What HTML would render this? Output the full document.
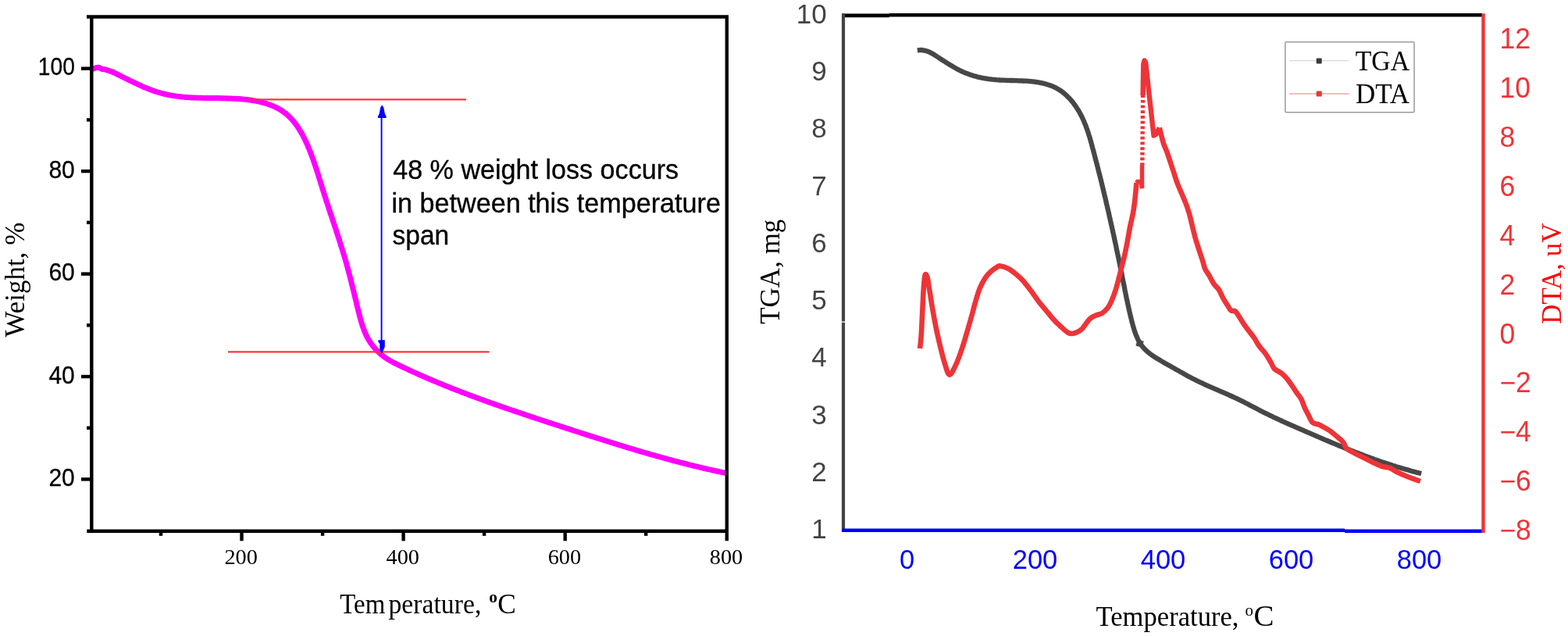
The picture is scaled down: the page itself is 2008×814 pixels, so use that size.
<!DOCTYPE html>
<html><head><meta charset="utf-8"><title>TGA / DTA</title>
<style>html,body{margin:0;padding:0;background:#fff;} svg{display:block;}</style></head>
<body><svg width="2008" height="814" viewBox="0 0 2008 814">
<rect width="2008" height="814" fill="#fff"/>
<path d="M119.8,87.9 C120.8,87.6 124.2,86.2 126.0,86.3 C127.8,86.4 129.1,87.9 130.5,88.3 C131.9,88.7 132.2,88.2 134.5,88.9 C136.8,89.6 142.8,91.7 144.5,92.3" fill="none" stroke="#ff00ff" stroke-width="7" stroke-linejoin="round" stroke-linecap="round"/>
<path d="M144.5,92.3 L146.7,93.3 L148.9,94.4 L151.1,95.5 L153.3,96.6 L155.5,97.7 L157.7,98.8 L160.0,100.0 L162.2,101.1 L164.5,102.2 L166.8,103.3 L169.1,104.4 L171.4,105.5 L173.7,106.6 L176.0,107.7 L178.4,108.8 L180.7,109.8 L183.0,110.9 L185.4,111.9 L187.7,112.8 L190.1,113.8 L192.5,114.7 L194.8,115.6 L197.2,116.4 L199.6,117.2 L202.0,118.0 L204.4,118.7 L206.8,119.3 L209.2,120.0 L211.6,120.5 L214.0,121.1 L216.4,121.6 L218.8,122.0 L221.2,122.4 L223.6,122.8 L226.0,123.1 L228.4,123.4 L230.9,123.7 L233.3,124.0 L235.7,124.2 L238.2,124.4 L240.6,124.6 L243.1,124.7 L245.5,124.9 L248.0,125.0 L250.4,125.1 L252.9,125.2 L255.4,125.2 L257.9,125.3 L260.3,125.4 L262.8,125.4 L265.3,125.4 L267.8,125.5 L270.4,125.5 L272.9,125.5 L275.4,125.6 L277.9,125.6 L280.5,125.6 L283.0,125.7 L285.6,125.7 L288.1,125.8 L290.7,125.9 L293.3,125.9 L295.9,126.0 L298.5,126.2 L301.1,126.3 L303.7,126.4 L306.2,126.6 L308.8,126.8 L311.4,127.1 L314.0,127.3 L316.6,127.6 L319.1,127.9 L321.7,128.3 L324.2,128.7 L326.7,129.1 L329.2,129.6 L331.7,130.1 L334.1,130.7 L336.5,131.3 L338.9,132.0 L341.3,132.7 L343.7,133.5 L346.0,134.3 L348.2,135.2 L350.5,136.1 L352.7,137.1 L354.8,138.2 L356.9,139.3 L359.0,140.5 L361.0,141.8 L363.0,143.2 L364.9,144.6 L366.8,146.1 L368.6,147.7 L370.4,149.3 L372.1,151.1 L373.8,152.8 L375.4,154.7 L377.0,156.6 L378.5,158.6 L380.0,160.6 L381.4,162.7 L382.8,164.8 L384.1,167.0 L385.4,169.2 L386.7,171.4 L387.9,173.7 L389.1,176.0 L390.3,178.3 L391.4,180.7 L392.5,183.0 L393.6,185.4 L394.6,187.8 L395.6,190.2 L396.6,192.6 L397.5,194.9 L398.4,197.3 L399.3,199.7 L400.2,202.1 L401.1,204.5 L401.9,206.8 L402.7,209.2 L403.5,211.6 L404.3,214.0 L405.1,216.3 L405.9,218.7 L406.6,221.0 L407.4,223.4 L408.1,225.8 L408.8,228.1 L409.6,230.5 L410.3,232.8 L411.0,235.2 L411.8,237.6 L412.5,239.9 L413.2,242.3 L414.0,244.6 L414.7,247.0 L415.5,249.4 L416.2,251.7 L417.0,254.1 L417.7,256.5 L418.5,258.9 L419.3,261.2 L420.1,263.6 L420.9,266.0 L421.6,268.4 L422.4,270.7 L423.2,273.1 L424.0,275.5 L424.8,277.9 L425.6,280.3 L426.4,282.7 L427.2,285.1 L428.0,287.5 L428.8,289.8 L429.6,292.2 L430.4,294.6 L431.1,297.0 L431.9,299.4 L432.7,301.8 L433.5,304.2 L434.3,306.6 L435.0,309.0 L435.8,311.4 L436.5,313.8 L437.3,316.2 L438.0,318.6 L438.8,321.0 L439.5,323.4 L440.2,325.8 L441.0,328.2 L441.7,330.6 L442.4,333.0 L443.1,335.4 L443.8,337.8 L444.4,340.2 L445.1,342.6 L445.7,345.0 L446.4,347.4 L447.0,349.9 L447.7,352.3 L448.3,354.7 L448.9,357.1 L449.5,359.5 L450.1,361.9 L450.7,364.3 L451.3,366.7 L451.9,369.2 L452.5,371.6 L453.1,374.0 L453.7,376.4 L454.3,378.9 L454.9,381.3 L455.5,383.7 L456.1,386.2 L456.6,388.6 L457.2,391.1 L457.8,393.5 L458.4,396.0 L459.1,398.5 L459.7,400.9 L460.3,403.4 L460.9,405.9 L461.6,408.4 L462.3,410.8 L463.0,413.3 L463.8,415.7 L464.5,418.1 L465.4,420.5 L466.3,422.8 L467.2,425.2 L468.2,427.4 L469.3,429.7 L470.4,431.9 L471.6,434.1 L472.9,436.2 L474.2,438.3 L475.7,440.3 L477.1,442.3 L478.7,444.2 L480.3,446.1 L481.9,447.9 L483.7,449.6 L485.4,451.3 L487.3,453.0 L489.2,454.6 L491.1,456.1 L493.1,457.5 L495.2,458.9 L497.3,460.2 L499.4,461.5 L501.6,462.7 L503.8,463.9 L506.0,465.1 L508.3,466.2 L510.6,467.3 L512.8,468.4 L515.1,469.5 L517.4,470.6 L519.7,471.6 L522.0,472.7 L524.2,473.8 L526.5,474.8 L528.8,475.9 L531.1,476.9 L533.4,477.9 L535.7,479.0 L538.0,480.0 L540.3,481.0 L542.6,482.0 L544.9,483.0 L547.2,484.0 L549.5,485.0 L551.9,486.0 L554.2,487.0 L556.5,487.9 L558.8,488.9 L561.1,489.9 L563.4,490.8 L565.8,491.8 L568.1,492.7 L570.4,493.7 L572.7,494.6 L575.1,495.5 L577.4,496.5 L579.7,497.4 L582.1,498.3 L584.4,499.2 L586.7,500.1 L589.1,501.0 L591.4,501.9 L593.8,502.8 L596.1,503.7 L598.4,504.6 L600.8,505.5 L603.1,506.4 L605.5,507.2 L607.8,508.1 L610.2,509.0 L612.5,509.8 L614.9,510.7 L617.2,511.5 L619.6,512.4 L621.9,513.3 L624.3,514.1 L626.7,514.9 L629.0,515.8 L631.4,516.6 L633.7,517.4 L636.1,518.3 L638.5,519.1 L640.8,519.9 L643.2,520.8 L645.6,521.6 L647.9,522.4 L650.3,523.2 L652.7,524.0 L655.0,524.8 L657.4,525.6 L659.8,526.4 L662.1,527.2 L664.5,528.0 L666.9,528.8 L669.3,529.6 L671.6,530.4 L674.0,531.2 L676.4,532.0 L678.8,532.8 L681.1,533.6 L683.5,534.4 L685.9,535.2 L688.3,536.0 L690.7,536.7 L693.0,537.5 L695.4,538.3 L697.8,539.1 L700.2,539.9 L702.6,540.6 L704.9,541.4 L707.3,542.2 L709.7,543.0 L712.1,543.7 L714.5,544.5 L716.9,545.3 L719.2,546.1 L721.6,546.8 L724.0,547.6 L726.4,548.4 L728.8,549.2 L731.2,549.9 L733.5,550.7 L735.9,551.5 L738.3,552.3 L740.7,553.0 L743.1,553.8 L745.5,554.6 L747.9,555.3 L750.2,556.1 L752.6,556.9 L755.0,557.6 L757.4,558.4 L759.8,559.1 L762.2,559.9 L764.6,560.7 L767.0,561.4 L769.4,562.2 L771.7,562.9 L774.1,563.7 L776.5,564.4 L778.9,565.2 L781.3,565.9 L783.7,566.7 L786.1,567.4 L788.5,568.2 L790.9,568.9 L793.3,569.6 L795.7,570.4 L798.1,571.1 L800.5,571.8 L802.9,572.6 L805.3,573.3 L807.7,574.0 L810.1,574.7 L812.5,575.4 L814.9,576.2 L817.3,576.9 L819.7,577.6 L822.1,578.3 L824.5,579.0 L826.9,579.7 L829.3,580.4 L831.7,581.1 L834.2,581.8 L836.6,582.4 L839.0,583.1 L841.4,583.8 L843.8,584.5 L846.2,585.2 L848.6,585.8 L851.0,586.5 L853.5,587.1 L855.9,587.8 L858.3,588.5 L860.7,589.1 L863.1,589.8 L865.6,590.4 L868.0,591.0 L870.4,591.7 L872.8,592.3 L875.3,592.9 L877.7,593.5 L880.1,594.1 L882.6,594.8 L885.0,595.4 L887.4,596.0 L889.9,596.6 L892.3,597.1 L894.7,597.7 L897.2,598.3 L899.6,598.9 L902.1,599.5 L904.5,600.0 L906.9,600.6 L909.4,601.1 L911.8,601.7 L914.3,602.2 L916.7,602.8 L919.2,603.3 L921.6,603.8 L924.1,604.4 L926.5,604.9 L929.0,605.4" fill="none" stroke="#ff00ff" stroke-width="7" stroke-linejoin="round" stroke-linecap="round"/>
<line x1="319.5" y1="127.4" x2="597" y2="127.4" stroke="#ff3535" stroke-width="2.3"/>
<line x1="292" y1="450.4" x2="626.5" y2="450.4" stroke="#ff3535" stroke-width="2.3"/>
<line x1="488.6" y1="140" x2="488.6" y2="447" stroke="#0000ff" stroke-width="1.9"/>
<path d="M489.2,134.6 L491.3,137.5 L492.9,145.5 L494.6,149 L494.6,151 L484,151 L484,149 L485.7,145.5 L487.2,137.5 Z" fill="#0000ff"/>
<path d="M489,452.5 L491,448 L492.8,444 L492.8,435.3 L484.4,435.3 L484.4,437.5 L486.3,440 L486.3,448 Z" fill="#0000ff"/>
<path d="M111,21.5 H930.8 V692.2 M117.3,21.5 V679.7 M111.3,679.7 H933.0" fill="none" stroke="#000" stroke-width="4.4"/>
<line x1="104" y1="87.7" x2="117.3" y2="87.7" stroke="#000" stroke-width="4.4"/>
<text transform="translate(95.8,96.3) scale(1,1.02)" font-family="'Liberation Sans', Arial, sans-serif" font-size="30" text-anchor="end" fill="#000" stroke="#000" stroke-width="0.3" textLength="47" lengthAdjust="spacingAndGlyphs">100</text>
<line x1="104" y1="219.1" x2="117.3" y2="219.1" stroke="#000" stroke-width="4.4"/>
<text transform="translate(95.8,227.7) scale(1,1.02)" font-family="'Liberation Sans', Arial, sans-serif" font-size="30" text-anchor="end" fill="#000" stroke="#000" stroke-width="0.3">80</text>
<line x1="104" y1="350.6" x2="117.3" y2="350.6" stroke="#000" stroke-width="4.4"/>
<text transform="translate(95.8,359.2) scale(1,1.02)" font-family="'Liberation Sans', Arial, sans-serif" font-size="30" text-anchor="end" fill="#000" stroke="#000" stroke-width="0.3">60</text>
<line x1="104" y1="482.0" x2="117.3" y2="482.0" stroke="#000" stroke-width="4.4"/>
<text transform="translate(95.8,490.6) scale(1,1.02)" font-family="'Liberation Sans', Arial, sans-serif" font-size="30" text-anchor="end" fill="#000" stroke="#000" stroke-width="0.3">40</text>
<line x1="104" y1="613.4" x2="117.3" y2="613.4" stroke="#000" stroke-width="4.4"/>
<text transform="translate(95.8,622.0) scale(1,1.02)" font-family="'Liberation Sans', Arial, sans-serif" font-size="30" text-anchor="end" fill="#000" stroke="#000" stroke-width="0.3">20</text>
<line x1="111" y1="153.4" x2="117.3" y2="153.4" stroke="#000" stroke-width="4.4"/>
<line x1="111" y1="284.8" x2="117.3" y2="284.8" stroke="#000" stroke-width="4.4"/>
<line x1="111" y1="416.3" x2="117.3" y2="416.3" stroke="#000" stroke-width="4.4"/>
<line x1="111" y1="547.7" x2="117.3" y2="547.7" stroke="#000" stroke-width="4.4"/>
<line x1="309.5" y1="679.7" x2="309.5" y2="692.3" stroke="#000" stroke-width="4.4"/>
<line x1="516.6" y1="679.7" x2="516.6" y2="692.3" stroke="#000" stroke-width="4.4"/>
<line x1="723.7" y1="679.7" x2="723.7" y2="692.3" stroke="#000" stroke-width="4.4"/>
<text x="308.7" y="722" font-family="'Liberation Serif', 'Times New Roman', serif" font-size="28.3" text-anchor="middle" fill="#000">200</text>
<text x="515.8" y="722" font-family="'Liberation Serif', 'Times New Roman', serif" font-size="28.3" text-anchor="middle" fill="#000">400</text>
<text x="722.9" y="722" font-family="'Liberation Serif', 'Times New Roman', serif" font-size="28.3" text-anchor="middle" fill="#000">600</text>
<text x="930.0" y="722" font-family="'Liberation Serif', 'Times New Roman', serif" font-size="28.3" text-anchor="middle" fill="#000">800</text>
<line x1="206.0" y1="679.7" x2="206.0" y2="685.8" stroke="#000" stroke-width="4.4"/>
<line x1="413.1" y1="679.7" x2="413.1" y2="685.8" stroke="#000" stroke-width="4.4"/>
<line x1="620.1" y1="679.7" x2="620.1" y2="685.8" stroke="#000" stroke-width="4.4"/>
<line x1="827.2" y1="679.7" x2="827.2" y2="685.8" stroke="#000" stroke-width="4.4"/>
<text y="784.7" font-family="'Liberation Serif', 'Times New Roman', serif" font-size="35.3" fill="#000"><tspan x="435.3" textLength="58" lengthAdjust="spacingAndGlyphs">Tem</tspan><tspan x="497.4" textLength="119" lengthAdjust="spacingAndGlyphs">perature,</tspan><tspan x="626.2" y="770.6" font-size="21.5" font-weight="bold">o</tspan><tspan x="637.3" y="784.7">C</tspan></text>
<text transform="translate(30.5,431.5) rotate(-90)" font-family="'Liberation Serif', 'Times New Roman', serif" font-size="35" fill="#000">Weight, %</text>
<text font-family="'Liberation Sans', Arial, sans-serif" font-size="35.5" fill="#000" stroke="#000" stroke-width="0.35" lengthAdjust="spacingAndGlyphs"><tspan x="503.2" y="229" textLength="365.9" lengthAdjust="spacingAndGlyphs">48 % weight loss occurs</tspan><tspan x="501.4" y="271.8" textLength="421.6" lengthAdjust="spacingAndGlyphs">in between this temperature</tspan><tspan x="502.6" y="312.6" textLength="72.6" lengthAdjust="spacingAndGlyphs">span</tspan></text>
<path d="M1174.8,64.4 L1177.4,64.1 L1180.0,64.0 L1182.4,64.3 L1184.8,64.8 L1187.1,65.5 L1189.4,66.3 L1191.6,67.4 L1193.7,68.5 L1195.9,69.8 L1198.0,71.1 L1200.1,72.5 L1202.3,73.9 L1204.4,75.3 L1206.5,76.7 L1208.7,78.0 L1210.8,79.4 L1213.0,80.8 L1215.2,82.2 L1217.4,83.5 L1219.6,84.8 L1221.8,86.1 L1224.0,87.4 L1226.2,88.6 L1228.4,89.7 L1230.7,90.8 L1232.9,91.8 L1235.2,92.8 L1237.5,93.8 L1239.8,94.6 L1242.1,95.5 L1244.4,96.2 L1246.7,97.0 L1249.1,97.6 L1251.4,98.3 L1253.8,98.8 L1256.2,99.4 L1258.6,99.9 L1261.0,100.3 L1263.5,100.7 L1265.9,101.1 L1268.4,101.4 L1270.9,101.7 L1273.4,101.9 L1275.9,102.2 L1278.5,102.3 L1281.0,102.5 L1283.6,102.6 L1286.1,102.7 L1288.7,102.8 L1291.3,102.9 L1293.9,103.0 L1296.5,103.0 L1299.1,103.1 L1301.7,103.2 L1304.3,103.3 L1306.9,103.4 L1309.4,103.5 L1312.0,103.6 L1314.6,103.7 L1317.1,103.9 L1319.6,104.1 L1322.2,104.4 L1324.7,104.7 L1327.1,105.0 L1329.6,105.4 L1332.0,105.8 L1334.5,106.3 L1336.8,106.9 L1339.2,107.5 L1341.5,108.2 L1343.8,108.9 L1346.1,109.8 L1348.3,110.7 L1350.5,111.7 L1352.7,112.7 L1354.8,113.9 L1356.9,115.2 L1358.9,116.5 L1360.9,118.0 L1362.8,119.6 L1364.7,121.2 L1366.5,122.9 L1368.3,124.7 L1370.0,126.5 L1371.7,128.4 L1373.4,130.4 L1374.9,132.4 L1376.5,134.5 L1377.9,136.6 L1379.3,138.7 L1380.7,140.8 L1382.0,143.0 L1383.2,145.2 L1384.4,147.4 L1385.5,149.7 L1386.6,151.9 L1387.6,154.2 L1388.6,156.5 L1389.5,158.8 L1390.5,161.1 L1391.3,163.5 L1392.2,165.8 L1393.0,168.2 L1393.8,170.6 L1394.5,172.9 L1395.3,175.3 L1396.0,177.7 L1396.7,180.1 L1397.4,182.6 L1398.0,185.0 L1398.7,187.4 L1399.3,189.8 L1400.0,192.2 L1400.6,194.7 L1401.3,197.1 L1401.9,199.5 L1402.5,202.0 L1403.2,204.4 L1403.8,206.8 L1404.4,209.2 L1405.1,211.7 L1405.7,214.1 L1406.3,216.5 L1406.9,219.0 L1407.5,221.4 L1408.2,223.8 L1408.8,226.3 L1409.4,228.7 L1410.0,231.1 L1410.6,233.6 L1411.2,236.0 L1411.8,238.5 L1412.4,240.9 L1412.9,243.3 L1413.5,245.8 L1414.1,248.2 L1414.7,250.7 L1415.3,253.1 L1415.9,255.5 L1416.4,258.0 L1417.0,260.4 L1417.6,262.9 L1418.1,265.3 L1418.7,267.7 L1419.3,270.2 L1419.8,272.6 L1420.4,275.1 L1420.9,277.5 L1421.5,280.0 L1422.0,282.4 L1422.6,284.9 L1423.1,287.3 L1423.7,289.8 L1424.2,292.2 L1424.8,294.6 L1425.3,297.1 L1425.8,299.5 L1426.4,302.0 L1426.9,304.4 L1427.4,306.9 L1427.9,309.3 L1428.5,311.8 L1429.0,314.2 L1429.5,316.7 L1430.0,319.1 L1430.5,321.6 L1431.0,324.0 L1431.6,326.5 L1432.1,328.9 L1432.6,331.4 L1433.1,333.8 L1433.6,336.3 L1434.1,338.7 L1434.6,341.2 L1435.1,343.6 L1435.6,346.1 L1436.1,348.5 L1436.6,351.0 L1437.0,353.4 L1437.5,355.9 L1438.0,358.3 L1438.5,360.8 L1439.0,363.2 L1439.5,365.7 L1440.0,368.1 L1440.4,370.6 L1440.9,373.0 L1441.4,375.5 L1441.9,377.9 L1442.4,380.4 L1442.9,382.8 L1443.5,385.3 L1444.0,387.7 L1444.5,390.2 L1445.0,392.6 L1445.6,395.1 L1446.1,397.6 L1446.7,400.0 L1447.3,402.5 L1447.9,405.0 L1448.5,407.4 L1449.1,409.9 L1449.7,412.4 L1450.4,414.8 L1451.0,417.3 L1451.8,419.7 L1452.5,422.2 L1453.3,424.6 L1454.1,426.9 L1455.0,429.3 L1456.0,431.6 L1457.0,433.8 L1458.1,436.0 L1459.3,438.1 L1460.6,440.2 L1462.0,442.2 L1463.5,444.1 L1465.1,445.9 L1466.8,447.6 L1468.6,449.3 L1470.4,450.9 L1472.4,452.5 L1474.4,454.0 L1476.4,455.4 L1478.5,456.8 L1480.7,458.2 L1482.9,459.5 L1485.1,460.8 L1487.3,462.1 L1489.6,463.4 L1491.8,464.7 L1494.0,465.9 L1496.3,467.2 L1498.5,468.4 L1500.7,469.7 L1502.9,470.9 L1505.0,472.2 L1507.2,473.4 L1509.4,474.6 L1511.5,475.9 L1513.7,477.1 L1515.8,478.3 L1518.0,479.5 L1520.1,480.7 L1522.3,481.9 L1524.5,483.0 L1526.7,484.2 L1528.9,485.3 L1531.1,486.4 L1533.3,487.5 L1535.6,488.6 L1537.8,489.7 L1540.1,490.7 L1542.4,491.8 L1544.6,492.8 L1546.9,493.9 L1549.2,494.9 L1551.5,495.9 L1553.8,496.9 L1556.2,497.9 L1558.5,498.9 L1560.8,499.9 L1563.1,500.9 L1565.4,501.9 L1567.8,502.9 L1570.1,503.9 L1572.4,504.9 L1574.7,506.0 L1577.0,507.0 L1579.3,508.0 L1581.6,509.1 L1583.9,510.1 L1586.1,511.2 L1588.4,512.3 L1590.6,513.4 L1592.9,514.5 L1595.1,515.7 L1597.3,516.8 L1599.5,518.0 L1601.7,519.2 L1603.9,520.3 L1606.2,521.5 L1608.4,522.6 L1610.6,523.8 L1612.8,524.9 L1615.0,526.1 L1617.2,527.2 L1619.5,528.3 L1621.7,529.4 L1624.0,530.5 L1626.2,531.6 L1628.5,532.7 L1630.7,533.8 L1633.0,534.8 L1635.3,535.9 L1637.5,536.9 L1639.8,538.0 L1642.1,539.0 L1644.4,540.1 L1646.7,541.1 L1648.9,542.1 L1651.2,543.2 L1653.5,544.2 L1655.8,545.2 L1658.1,546.2 L1660.4,547.2 L1662.7,548.2 L1665.0,549.2 L1667.3,550.2 L1669.6,551.2 L1671.9,552.2 L1674.2,553.2 L1676.5,554.2 L1678.9,555.2 L1681.2,556.2 L1683.5,557.2 L1685.8,558.2 L1688.1,559.1 L1690.4,560.1 L1692.7,561.1 L1695.0,562.1 L1697.3,563.1 L1699.6,564.0 L1701.9,565.0 L1704.3,566.0 L1706.6,567.0 L1708.9,567.9 L1711.2,568.9 L1713.5,569.8 L1715.8,570.8 L1718.2,571.7 L1720.5,572.7 L1722.8,573.6 L1725.1,574.5 L1727.5,575.5 L1729.8,576.4 L1732.1,577.3 L1734.4,578.2 L1736.8,579.1 L1739.1,580.0 L1741.4,580.9 L1743.8,581.8 L1746.1,582.7 L1748.5,583.6 L1750.8,584.5 L1753.2,585.3 L1755.5,586.2 L1757.9,587.0 L1760.2,587.9 L1762.6,588.7 L1765.0,589.5 L1767.3,590.4 L1769.7,591.2 L1772.1,592.0 L1774.4,592.8 L1776.8,593.6 L1779.2,594.3 L1781.6,595.1 L1784.0,595.9 L1786.3,596.6 L1788.7,597.4 L1791.1,598.1 L1793.5,598.8 L1795.9,599.5 L1798.3,600.2 L1800.8,600.9 L1803.2,601.6 L1805.6,602.3 L1808.0,603.0 L1810.4,603.6 L1812.9,604.2 L1815.3,604.9 L1817.8,605.5 L1820.2,606.1" fill="none" stroke="#474747" stroke-width="6.3" stroke-linejoin="round"/>
<rect x="-4.2" y="-4.2" width="8.4" height="8.4" fill="#474747" transform="translate(1459.6,439.6) rotate(15)"/>
<path d="M1178.1,446.0 C1178.4,443.0 1179.3,435.7 1179.8,428.0 C1180.3,420.3 1180.7,409.3 1181.2,400.0 C1181.7,390.7 1182.1,379.7 1182.6,372.0 C1183.1,364.3 1183.7,357.5 1184.2,354.0 C1184.7,350.5 1185.2,350.9 1185.8,351.2 C1186.4,351.5 1187.2,353.9 1187.8,356.0 C1188.4,358.1 1188.2,357.8 1189.2,364.0 C1190.2,370.2 1192.2,383.7 1193.8,393.0 C1195.4,402.3 1197.1,411.7 1198.8,420.0 C1200.5,428.3 1202.2,435.5 1204.0,443.0 C1205.8,450.5 1207.8,458.9 1209.8,465.0 C1211.8,471.1 1213.6,479.4 1216.0,479.6 C1218.4,479.8 1221.5,472.2 1224.3,466.3 C1227.1,460.4 1230.1,451.6 1232.6,444.2 C1235.1,436.8 1237.0,429.5 1239.2,422.1 C1241.4,414.7 1244.0,405.5 1245.5,400.0 C1247.0,394.5 1246.9,394.1 1248.4,389.0 C1249.9,383.9 1252.4,374.8 1254.7,369.1 C1257.0,363.5 1259.6,358.8 1262.1,355.1 C1264.6,351.4 1267.0,349.2 1269.5,347.0 C1272.0,344.8 1274.8,342.9 1276.8,341.8 C1278.8,340.7 1278.8,340.1 1281.3,340.5 C1283.8,340.9 1288.6,342.6 1291.6,344.0 C1294.5,345.4 1296.0,346.7 1299.0,349.2 C1302.0,351.7 1306.3,355.2 1309.8,359.0 C1313.3,362.8 1316.7,367.4 1320.0,371.8 C1323.3,376.2 1326.5,381.1 1329.8,385.4 C1333.1,389.7 1336.4,393.5 1339.7,397.5 C1343.0,401.5 1346.5,406.0 1349.8,409.6 C1353.1,413.2 1356.8,416.5 1359.7,419.2 C1362.6,421.9 1365.2,424.3 1367.4,425.6 C1369.6,426.9 1371.2,427.0 1373.0,427.0 C1374.8,427.0 1376.3,426.6 1378.4,425.6 C1380.5,424.6 1383.8,422.7 1385.8,420.8 C1387.8,418.9 1388.8,416.7 1390.5,414.5 C1392.2,412.3 1394.1,409.3 1396.3,407.5 C1398.5,405.7 1401.2,404.6 1403.7,403.5 C1406.2,402.4 1408.6,402.5 1411.1,401.0 C1413.5,399.5 1416.3,397.0 1418.4,394.3 C1420.5,391.6 1421.9,388.6 1423.6,384.7 C1425.3,380.8 1427.1,376.1 1428.7,371.0 C1430.3,365.9 1431.9,359.4 1433.3,354.2 C1434.7,348.9 1435.8,344.4 1437.0,339.5 C1438.2,334.6 1439.5,329.6 1440.6,324.7 C1441.7,319.8 1442.5,315.8 1443.6,310.0 C1444.7,304.2 1446.0,296.1 1447.2,290.0 C1448.4,283.9 1449.8,278.9 1450.8,273.7 C1451.8,268.5 1452.4,263.9 1453.0,259.0 C1453.6,254.1 1454.1,248.4 1454.5,244.2 C1454.9,240.0 1455.3,235.7 1455.5,234.0" fill="none" stroke="#ee3438" stroke-width="6.6" stroke-linejoin="round"/>
<path d="M1455.5,234.0 L1456.5,232.5 L1461.3,232.5 L1462.5,241.0 L1462.5,212.0" fill="none" stroke="#ee3438" stroke-width="5.5" stroke-linejoin="miter"/>
<path d="M1462.8,212.0 L1463.6,122.0" fill="none" stroke="#ee3438" stroke-width="5.4" stroke-dasharray="3.7 3"/>
<path d="M1463.6,122.0 L1464.3,82.0 L1465.6,77.5 L1467.2,80.0 L1471.5,120.0 L1477.5,173.5 L1480.5,172.0 L1484.8,163.5" fill="none" stroke="#ee3438" stroke-width="6.4" stroke-linejoin="round"/>
<path d="M1484.8,163.5 C1485.7,166.8 1488.3,178.1 1489.9,183.2 C1491.5,188.3 1492.8,190.1 1494.3,194.2 C1495.8,198.2 1497.3,203.1 1498.8,207.5 C1500.3,211.9 1501.7,216.4 1503.2,220.8 C1504.7,225.2 1505.9,229.7 1507.6,234.1 C1509.2,238.5 1511.2,242.9 1513.1,247.3 C1514.9,251.7 1517.0,256.2 1518.7,260.6 C1520.4,265.0 1521.8,269.5 1523.1,273.9 C1524.4,278.3 1525.1,282.0 1526.4,287.2 C1527.7,292.4 1529.1,298.9 1530.8,304.9 C1532.5,310.9 1535.0,318.3 1536.5,323.0 C1538.0,327.7 1538.9,329.8 1540.0,333.3 C1541.1,336.9 1541.8,341.0 1543.3,344.3 C1544.8,347.6 1547.0,350.1 1548.8,353.2 C1550.6,356.3 1552.3,360.2 1554.3,363.1 C1556.3,366.1 1559.0,367.8 1561.0,370.9 C1563.0,374.0 1564.7,378.7 1566.5,382.0 C1568.3,385.3 1570.3,388.2 1572.0,390.8 C1573.7,393.4 1574.8,396.1 1576.5,397.4 C1578.2,398.7 1580.2,397.0 1582.0,398.5 C1583.8,400.0 1585.7,403.5 1587.5,406.3 C1589.3,409.1 1591.1,412.2 1593.1,415.1 C1595.1,418.1 1597.5,421.1 1599.7,424.0 C1601.9,426.9 1604.2,429.6 1606.3,432.8 C1608.4,436.0 1610.1,439.6 1612.6,443.0 C1615.1,446.4 1618.6,449.8 1621.1,453.3 C1623.6,456.9 1625.9,461.2 1627.7,464.3 C1629.5,467.4 1629.9,469.9 1632.1,472.1 C1634.3,474.3 1638.4,475.6 1641.0,477.6 C1643.6,479.6 1645.4,481.6 1647.6,484.2 C1649.8,486.8 1652.0,490.0 1654.2,493.1 C1656.4,496.2 1658.9,500.2 1660.9,503.1 C1662.9,506.1 1664.8,507.7 1666.4,510.8 C1668.1,513.9 1669.3,518.6 1670.8,521.9 C1672.3,525.2 1673.6,527.6 1675.3,530.7 C1677.0,533.8 1678.8,538.7 1680.8,540.7 C1682.8,542.7 1685.4,542.1 1687.4,542.9 C1689.4,543.7 1690.5,544.2 1693.0,545.5 C1695.5,546.8 1698.7,548.4 1702.3,550.9 C1705.9,553.4 1711.5,558.1 1714.6,560.7 C1717.7,563.4 1719.1,564.5 1720.7,566.8 C1722.3,569.0 1722.4,572.2 1724.4,574.2 C1726.5,576.2 1729.5,577.2 1733.0,579.1 C1736.5,581.0 1741.2,583.2 1745.3,585.3 C1749.4,587.3 1753.4,589.5 1757.5,591.4 C1761.6,593.3 1766.1,595.7 1769.8,596.9 C1773.5,598.1 1776.5,597.7 1779.6,598.8 C1782.7,599.9 1784.7,602.0 1788.2,603.7 C1791.7,605.4 1795.4,607.2 1800.5,609.2 C1805.6,611.2 1815.8,614.9 1818.9,616.0" fill="none" stroke="#ee3438" stroke-width="6.6" stroke-linejoin="round" stroke-linecap="butt"/>
<path d="M1078,19.9 H1138.7 M1138.7,19.3 H1898" fill="none" stroke="#000" stroke-width="4.6"/>
<line x1="1080" y1="17.3" x2="1080" y2="681" stroke="#444" stroke-width="4.2"/>
<rect x="1077" y="411.4" width="6" height="1.3" fill="#fff"/>
<path d="M1078,678.7 H1722 M1722,679.7 H1898" fill="none" stroke="#0000ff" stroke-width="4.6"/>
<line x1="1899.5" y1="17.3" x2="1899.5" y2="682" stroke="#ee3438" stroke-width="4.4"/>
<text transform="translate(1058.7,688.9) scale(1,1.001)" font-family="'Liberation Sans', Arial, sans-serif" font-size="35" text-anchor="end" fill="#444">1</text>
<text transform="translate(1058.7,615.7) scale(1,1.001)" font-family="'Liberation Sans', Arial, sans-serif" font-size="35" text-anchor="end" fill="#444">2</text>
<text transform="translate(1058.7,542.5) scale(1,1.001)" font-family="'Liberation Sans', Arial, sans-serif" font-size="35" text-anchor="end" fill="#444">3</text>
<text transform="translate(1058.7,469.3) scale(1,1.001)" font-family="'Liberation Sans', Arial, sans-serif" font-size="35" text-anchor="end" fill="#444">4</text>
<text transform="translate(1058.7,396.1) scale(1,1.001)" font-family="'Liberation Sans', Arial, sans-serif" font-size="35" text-anchor="end" fill="#444">5</text>
<text transform="translate(1058.7,322.9) scale(1,1.001)" font-family="'Liberation Sans', Arial, sans-serif" font-size="35" text-anchor="end" fill="#444">6</text>
<text transform="translate(1058.7,249.6) scale(1,1.001)" font-family="'Liberation Sans', Arial, sans-serif" font-size="35" text-anchor="end" fill="#444">7</text>
<text transform="translate(1058.7,176.4) scale(1,1.001)" font-family="'Liberation Sans', Arial, sans-serif" font-size="35" text-anchor="end" fill="#444">8</text>
<text transform="translate(1058.7,103.2) scale(1,1.001)" font-family="'Liberation Sans', Arial, sans-serif" font-size="35" text-anchor="end" fill="#444">9</text>
<text transform="translate(1058.7,30.0) scale(1,1.001)" font-family="'Liberation Sans', Arial, sans-serif" font-size="35" text-anchor="end" fill="#444">10</text>
<text transform="translate(1920.4,691.1) scale(1,1.015)" font-family="'Liberation Sans', Arial, sans-serif" font-size="35.5" fill="#ee3438">−8</text>
<text transform="translate(1920.4,628.2) scale(1,1.015)" font-family="'Liberation Sans', Arial, sans-serif" font-size="35.5" fill="#ee3438">−6</text>
<text transform="translate(1920.4,565.3) scale(1,1.015)" font-family="'Liberation Sans', Arial, sans-serif" font-size="35.5" fill="#ee3438">−4</text>
<text transform="translate(1920.4,502.4) scale(1,1.015)" font-family="'Liberation Sans', Arial, sans-serif" font-size="35.5" fill="#ee3438">−2</text>
<text transform="translate(1920.4,439.5) scale(1,1.015)" font-family="'Liberation Sans', Arial, sans-serif" font-size="35.5" fill="#ee3438">0</text>
<text transform="translate(1920.4,376.6) scale(1,1.015)" font-family="'Liberation Sans', Arial, sans-serif" font-size="35.5" fill="#ee3438">2</text>
<text transform="translate(1920.4,313.7) scale(1,1.015)" font-family="'Liberation Sans', Arial, sans-serif" font-size="35.5" fill="#ee3438">4</text>
<text transform="translate(1920.4,250.8) scale(1,1.015)" font-family="'Liberation Sans', Arial, sans-serif" font-size="35.5" fill="#ee3438">6</text>
<text transform="translate(1920.4,187.9) scale(1,1.015)" font-family="'Liberation Sans', Arial, sans-serif" font-size="35.5" fill="#ee3438">8</text>
<text transform="translate(1920.4,125.0) scale(1,1.015)" font-family="'Liberation Sans', Arial, sans-serif" font-size="35.5" fill="#ee3438">10</text>
<text transform="translate(1920.4,62.1) scale(1,1.015)" font-family="'Liberation Sans', Arial, sans-serif" font-size="35.5" fill="#ee3438">12</text>
<text transform="translate(1161.5,728.2) scale(1,1.025)" font-family="'Liberation Sans', Arial, sans-serif" font-size="34.5" text-anchor="middle" fill="#0000ff">0</text>
<text transform="translate(1325.5,728.2) scale(1,1.025)" font-family="'Liberation Sans', Arial, sans-serif" font-size="34.5" text-anchor="middle" fill="#0000ff">200</text>
<text transform="translate(1489.5,728.2) scale(1,1.025)" font-family="'Liberation Sans', Arial, sans-serif" font-size="34.5" text-anchor="middle" fill="#0000ff">400</text>
<text transform="translate(1653.5,728.2) scale(1,1.025)" font-family="'Liberation Sans', Arial, sans-serif" font-size="34.5" text-anchor="middle" fill="#0000ff">600</text>
<text transform="translate(1817.5,728.2) scale(1,1.025)" font-family="'Liberation Sans', Arial, sans-serif" font-size="34.5" text-anchor="middle" fill="#0000ff">800</text>
<text y="800.9" font-family="'Liberation Serif', 'Times New Roman', serif" font-size="35.2" fill="#000"><tspan x="1403.5" textLength="183" lengthAdjust="spacingAndGlyphs">Temperature,</tspan><tspan x="1594.6" y="787.5" font-size="21">o</tspan><tspan x="1605.6" y="801.4" font-size="38" textLength="26" lengthAdjust="spacingAndGlyphs">C</tspan></text>
<text transform="translate(998,414.8) rotate(-90)" font-family="'Liberation Serif', 'Times New Roman', serif" font-size="35" fill="#000">TGA, mg</text>
<text transform="translate(1998.5,414.8) rotate(-90)" font-family="'Liberation Serif', 'Times New Roman', serif" font-size="35" fill="#ff0000">DTA, uV</text>
<rect x="1645.9" y="53.8" width="165.2" height="90" rx="1.5" fill="#fff" stroke="#9a9a9a" stroke-width="1.5"/>
<line x1="1651" y1="77.6" x2="1727.5" y2="77.6" stroke="#d8d8d8" stroke-width="1.4"/>
<rect x="1685.7" y="74.4" width="7" height="7" rx="1" fill="#3a3a3a"/>
<line x1="1651" y1="120" x2="1727.5" y2="120" stroke="#ffa0a0" stroke-width="1.4"/>
<rect x="1685.7" y="116.4" width="7" height="7" rx="1" fill="#ee3438"/>
<text x="1735.7" y="89.9" font-family="'Liberation Serif', 'Times New Roman', serif" font-size="35.5" fill="#000" textLength="69.5" lengthAdjust="spacingAndGlyphs">TGA</text>
<text x="1736" y="131.7" font-family="'Liberation Serif', 'Times New Roman', serif" font-size="35.5" fill="#000" textLength="69" lengthAdjust="spacingAndGlyphs">DTA</text>
</svg></body></html>
